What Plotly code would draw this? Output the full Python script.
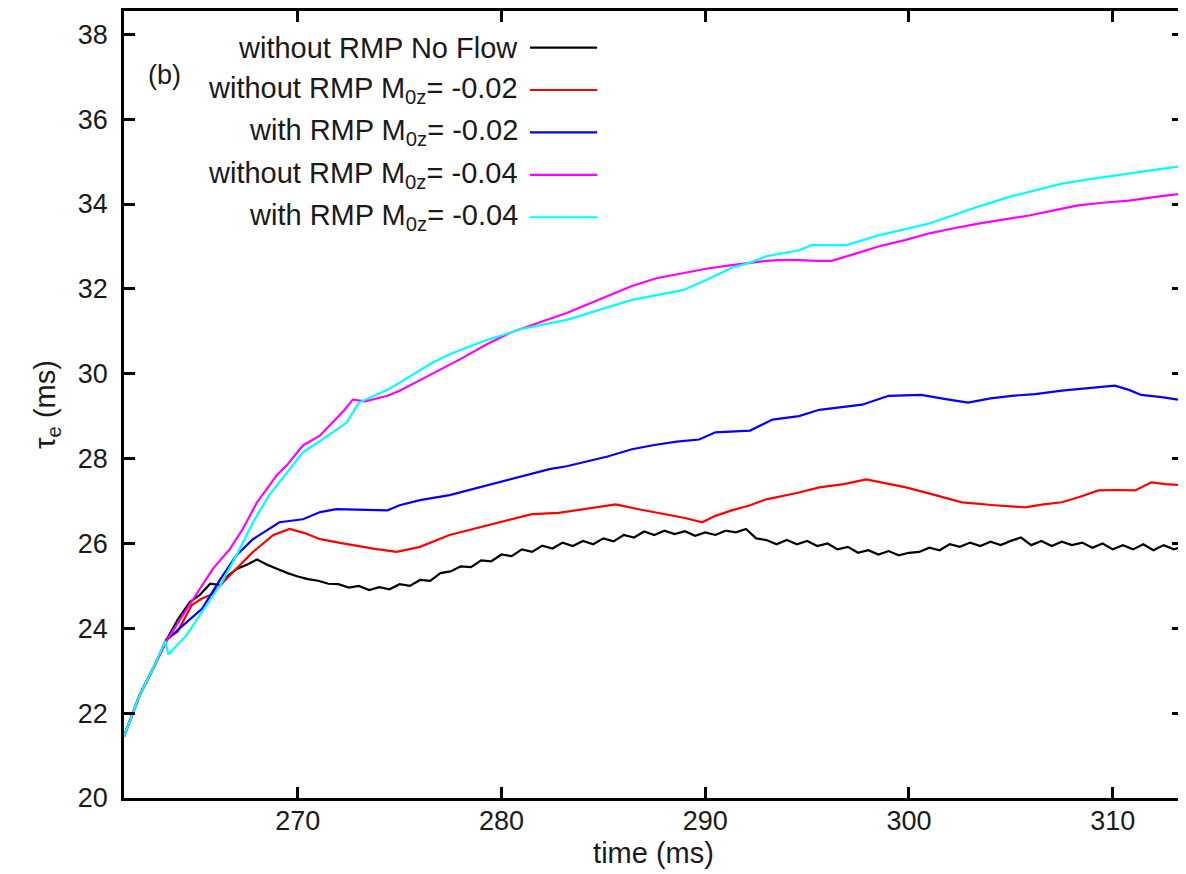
import plotly.graph_objects as go

# ---------------- data ----------------
t_black = [261.47, 262.25, 262.9, 263.55, 264.1, 264.7, 265.2, 265.7, 266.2, 266.6, 267.0, 267.5, 268.0, 268.5,
           269.0, 269.5, 270.0, 270.5, 271.0, 271.5, 272.0, 272.5, 273.0, 273.5, 274.0, 274.5, 275.0, 275.5,
           276.0, 276.5, 277.0, 277.5, 278.0, 278.5, 279.0, 279.5, 280.0, 280.5, 281.0, 281.5, 282.0, 282.5,
           283.0, 283.5, 284.0, 284.5, 285.0, 285.5, 286.0, 286.5, 287.0, 287.5, 288.0, 288.5, 289.0, 289.5,
           290.0, 290.5, 291.0, 291.5, 292.0, 292.5, 293.0, 293.5, 294.0, 294.5, 295.0, 295.5, 296.0, 296.5,
           297.0, 297.5, 298.0, 298.5, 299.0, 299.5, 300.0, 300.5, 301.0, 301.5, 302.0, 302.5, 303.0, 303.5,
           304.0, 304.5, 305.0, 305.5, 306.0, 306.5, 307.0, 307.5, 308.0, 308.5, 309.0, 309.5, 310.0, 310.5,
           311.0, 311.5, 312.0, 312.5, 313.0, 313.45]
v_black = [21.45, 22.44, 23.05, 23.72, 24.20, 24.62, 24.79, 25.05, 25.02, 25.25, 25.40, 25.50, 25.62, 25.50,
           25.40, 25.30, 25.22, 25.16, 25.12, 25.05, 25.04, 24.96, 25.00, 24.90, 24.97, 24.92, 25.04, 25.00,
           25.14, 25.12, 25.30, 25.34, 25.46, 25.44, 25.60, 25.58, 25.74, 25.70, 25.86, 25.80, 25.95, 25.88,
           26.02, 25.94, 26.06, 25.98, 26.12, 26.05, 26.20, 26.14, 26.28, 26.20, 26.30, 26.22, 26.29, 26.18,
           26.26, 26.20, 26.30, 26.26, 26.34, 26.12, 26.08, 25.98, 26.08, 25.98, 26.06, 25.94, 26.00, 25.86,
           25.92, 25.78, 25.84, 25.74, 25.82, 25.72, 25.78, 25.80, 25.90, 25.84, 25.98, 25.92, 26.02, 25.94,
           26.04, 25.96, 26.06, 26.14, 25.96, 26.06, 25.94, 26.04, 25.96, 26.02, 25.90, 26.00, 25.86, 25.96,
           25.86, 25.98, 25.84, 25.96, 25.86, 25.92]

t_red = [261.47, 262.25, 262.9, 263.55, 264.1, 264.8, 265.3, 265.8, 266.2, 267.0, 267.8, 268.8, 269.6, 270.3,
         271.1, 272.0, 272.7, 273.7, 274.85, 276.0, 277.45, 278.7, 279.9, 281.5, 282.8, 284.0, 285.6, 286.8,
         288.1, 289.0, 289.85, 290.5, 291.3, 292.2, 293.0, 294.6, 295.6, 296.8, 297.9, 298.9, 299.85, 301.2,
         302.6, 304.2, 305.7, 306.6, 307.5, 308.4, 309.3, 310.2, 311.1, 311.9, 312.6, 313.45]
v_red = [21.45, 22.44, 23.05, 23.75, 23.92, 24.55, 24.70, 24.80, 25.02, 25.40, 25.80, 26.20, 26.34, 26.25,
         26.10, 26.02, 25.96, 25.88, 25.80, 25.92, 26.20, 26.35, 26.50, 26.69, 26.72, 26.81, 26.92, 26.80,
         26.69, 26.60, 26.50, 26.65, 26.78, 26.90, 27.04, 27.20, 27.32, 27.40, 27.51, 27.42, 27.32, 27.15,
         26.97, 26.90, 26.85, 26.92, 26.97, 27.10, 27.25, 27.26, 27.25, 27.44, 27.40, 27.37]

t_blue = [261.47, 262.25, 262.9, 263.55, 264.56, 265.3, 266.2, 267.0, 267.8, 268.6, 269.1, 270.25, 271.1,
          271.9, 273.5, 274.4, 275.0, 276.0, 277.45, 278.7, 279.9, 281.1, 282.35, 283.2, 284.0, 285.2, 286.4,
          287.5, 288.6, 289.7, 290.5, 291.3, 292.2, 293.3, 294.6, 295.6, 296.6, 297.7, 299.0, 300.6, 301.8,
          302.9, 304.0, 305.05, 306.2, 307.5, 308.8, 310.1, 310.8, 311.4, 312.4, 313.45]
v_blue = [21.45, 22.44, 23.05, 23.72, 24.15, 24.46, 25.16, 25.73, 26.10, 26.34, 26.50, 26.57, 26.74,
          26.81, 26.78, 26.78, 26.90, 27.02, 27.14, 27.30, 27.44, 27.60, 27.75, 27.82, 27.91, 28.05, 28.22,
          28.32, 28.40, 28.45, 28.62, 28.64, 28.66, 28.92, 29.00, 29.15, 29.20, 29.27, 29.48, 29.50, 29.40,
          29.32, 29.42, 29.48, 29.52, 29.60, 29.66, 29.72, 29.62, 29.50, 29.45, 29.37]

t_magenta = [261.47, 262.25, 262.9, 263.63, 264.56, 265.2, 265.83, 266.67, 267.3, 268.0, 268.97, 269.46,
             270.25, 271.08, 271.7, 272.3, 272.7, 273.3, 274.4, 275.0, 276.0, 277.0, 278.0, 279.3, 280.4,
             281.5, 283.2, 284.8, 286.4, 287.6, 288.9, 290.1, 291.3, 292.2, 293.0, 293.6, 294.6, 295.5,
             296.2, 297.3, 298.5, 299.8, 301.0, 302.2, 303.4, 304.7, 305.9, 307.1, 308.3, 309.5, 310.8,
             312.1, 313.45]
v_magenta = [21.45, 22.44, 23.05, 23.76, 24.46, 24.93, 25.40, 25.87, 26.34, 26.97, 27.61, 27.84,
             28.31, 28.54, 28.85, 29.15, 29.39, 29.35, 29.48, 29.60, 29.85, 30.10, 30.35, 30.70, 30.96,
             31.15, 31.43, 31.75, 32.07, 32.25, 32.37, 32.48, 32.56, 32.62, 32.66, 32.68, 32.68, 32.66,
             32.66, 32.82, 33.00, 33.15, 33.31, 33.43, 33.54, 33.64, 33.73, 33.85, 33.97, 34.03, 34.08,
             34.17, 34.25]

t_cyan = [261.47, 262.25, 262.9, 263.5, 263.65, 264.56, 265.3, 266.2, 267.0, 267.8, 268.6, 269.46, 270.25,
          271.2, 272.4, 273.0, 274.4, 275.0, 276.0, 276.6, 277.6, 279.3, 280.4, 280.9, 283.2, 284.8, 286.4,
          288.9, 290.1, 291.3, 292.2, 293.0, 294.6, 295.2, 296.9, 298.5, 299.8, 301.0, 302.2, 303.4, 305.0,
          306.2, 307.5, 308.8, 310.0, 311.7, 313.45]
v_cyan = [21.45, 22.44, 23.05, 23.70, 23.38, 23.85, 24.39, 25.02, 25.73, 26.50, 27.14, 27.68, 28.15,
          28.45, 28.85, 29.32, 29.62, 29.79, 30.09, 30.26, 30.49, 30.80, 30.96, 31.05, 31.27, 31.50, 31.74,
          31.97, 32.22, 32.50, 32.62, 32.77, 32.91, 33.03, 33.03, 33.26, 33.40, 33.54, 33.74, 33.94, 34.18,
          34.33, 34.48, 34.58, 34.67, 34.78, 34.90]

series_labels = ["without RMP No Flow",
                 "without RMP M<sub>0z</sub>= -0.02",
                 "with RMP M<sub>0z</sub>= -0.02",
                 "without RMP M<sub>0z</sub>= -0.04",
                 "with RMP M<sub>0z</sub>= -0.04"]
series_colors = ["#000000", "#ff0000", "#0000ff", "#ff00ff", "#00ffff"]
series_t = [t_black, t_red, t_blue, t_magenta, t_cyan]
series_v = [v_black, v_red, v_blue, v_magenta, v_cyan]

x_ticks = [270, 280, 290, 300, 310]
y_ticks = [20, 22, 24, 26, 28, 30, 32, 34, 36, 38]

FONT = "Liberation Sans, Arial, sans-serif"
TXT = "#1a1a1a"

fig = go.Figure()
for t, v, name, col in zip(series_t, series_v, series_labels, series_colors):
    fig.add_trace(go.Scatter(x=t, y=v, mode="lines", name=name,
                             line=dict(color=col, width=2.2), showlegend=False))

# gnuplot-style key: right-aligned text with a line sample on the right
key_top = 0.9535
key_step = 0.0539
for i, (name, col) in enumerate(zip(series_labels, series_colors)):
    yk = key_top - i * key_step
    fig.add_annotation(xref="paper", yref="paper", x=0.3735, y=yk, text=name,
                       showarrow=False, xanchor="right", yanchor="middle",
                       font=dict(family=FONT, size=29, color=TXT))
    fig.add_shape(type="line", xref="paper", yref="paper", x0=0.3834, x1=0.4467,
                  y0=yk, y1=yk, line=dict(color=col, width=2.2))

fig.add_annotation(xref="paper", yref="paper", x=0.021, y=0.919, text="(b)",
                   showarrow=False, xanchor="left", yanchor="middle",
                   font=dict(family=FONT, size=27, color=TXT))

axis_common = dict(showline=True, linewidth=2.5, linecolor="black", mirror="allticks",
                   ticks="inside", ticklen=11, tickwidth=2.5, tickcolor="black",
                   showgrid=False, zeroline=False,
                   tickfont=dict(family=FONT, size=27, color=TXT))

fig.update_xaxes(range=[261.47, 313.45], tickvals=x_ticks, ticklabelstandoff=-3,
                 title=dict(text="time (ms)", font=dict(family=FONT, size=29, color=TXT), standoff=8),
                 **axis_common)
fig.update_yaxes(range=[20, 38.55], tickvals=y_ticks, ticklabelstandoff=8,
                 title=dict(text="τ<sub>e</sub> (ms)", font=dict(family=FONT, size=29, color=TXT), standoff=14),
                 **axis_common)

# the page body adds an 8px offset, so margins are shifted to place the frame as in the reference
fig.update_layout(width=1186, height=874, margin=dict(l=116, r=11, t=0, b=84),
                  paper_bgcolor="white", plot_bgcolor="white")

fig.write_html("out.html")
